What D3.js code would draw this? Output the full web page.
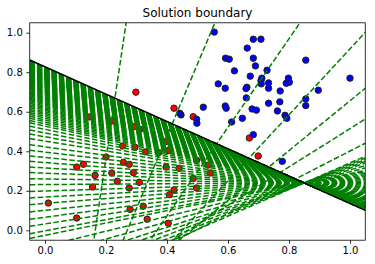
<!DOCTYPE html>
<html>
<head>
<meta charset="utf-8">
<script src="https://cdn.jsdelivr.net/npm/d3@7"></script>
<style>
  body { margin: 0; background: white; }
  text { font-family: "DejaVu Sans", sans-serif; }
</style>
</head>
<body>
<svg id="chart" width="375" height="264"></svg>
<script>
// class 0 points (red)
const redX = [0.011, 0.104, 0.104, 0.126, 0.200, 0.164, 0.156, 0.219, 0.237, 0.257, 0.276, 0.290, 0.276, 0.309,
    0.279, 0.322, 0.335, 0.404, 0.408, 0.423, 0.397, 0.440, 0.330, 0.255, 0.295, 0.372, 0.396, 0.404, 0.147,
    0.216, 0.293, 0.311, 0.298, 0.423, 0.486, 0.670, 0.699, 0.497, 0.535, 0.542, 0.486, 0.497];
const redY = [0.138, 0.062, 0.320, 0.334, 0.371, 0.278, 0.219, 0.290, 0.248, 0.344, 0.334, 0.292, 0.214, 0.243,
    0.106, 0.122, 0.056, 0.036, 0.180, 0.204, 0.320, 0.314, 0.397, 0.427, 0.420, 0.393, 0.449, 0.403, 0.574,
    0.552, 0.525, 0.511, 0.699, 0.618, 0.575, 0.467, 0.376, 0.354, 0.330, 0.290, 0.262, 0.214];

// class 1 points (blue)
const blueX = [0.555, 0.683, 0.708, 0.663, 0.592, 0.604, 0.683, 0.855, 0.690, 0.621, 0.728, 0.673, 0.711, 0.708,
    0.798, 0.801, 0.791, 1.000, 0.568, 0.733, 0.709, 0.662, 0.659, 0.591, 0.733, 0.771, 0.896, 0.660, 0.733,
    0.770, 0.855, 0.855, 0.519, 0.591, 0.594, 0.679, 0.693, 0.762, 0.787, 0.793, 0.647, 0.612, 0.497, 0.498,
    0.446, 0.442, 0.683, 0.778];
const blueY = [1.003, 0.967, 0.967, 0.922, 0.871, 0.866, 0.871, 0.861, 0.832, 0.807, 0.810, 0.780, 0.770, 0.757,
    0.770, 0.749, 0.744, 0.770, 0.741, 0.746, 0.741, 0.724, 0.717, 0.719, 0.719, 0.705, 0.709, 0.670, 0.643,
    0.650, 0.665, 0.631, 0.623, 0.629, 0.618, 0.614, 0.608, 0.604, 0.582, 0.567, 0.567, 0.548, 0.562, 0.542,
    0.584, 0.592, 0.484, 0.349];

// first iterations: x where each line crosses y = -0.05 and y = 1.05
const earlyLines = [[0.16, 0.266], [0.256, 0.557], [0.345, 0.836], [0.42, 1.079], [0.44, 1.313],
    [0.418, 1.552], [0.43, 1.82]];

// where the later lines all cross, near the end of the black line
const pivot = [0.85, 0.24];

// middle iterations: x where each line leaves the bottom edge (they run through the pivot)
const bottomCross = [0.419, 0.39, 0.356, 0.315, 0.269, 0.187, 0.079, -0.079];

// last iterations: y where each line leaves the left edge (they run through the pivot)
const leftCross = [-0.017, 0.02, 0.056, 0.093, 0.13, 0.164, 0.197, 0.231, 0.261, 0.292, 0.32, 0.349, 0.376,
    0.405, 0.433, 0.464, 0.487, 0.508, 0.527, 0.544, 0.556, 0.567, 0.577, 0.587, 0.596, 0.605, 0.613, 0.621,
    0.629, 0.636, 0.643, 0.650, 0.657, 0.663, 0.669, 0.675, 0.681, 0.687, 0.692, 0.697, 0.702, 0.707, 0.712,
    0.717, 0.721, 0.725, 0.729, 0.733, 0.737, 0.741, 0.745, 0.749, 0.752, 0.755, 0.758, 0.761, 0.764, 0.767,
    0.770, 0.773, 0.776, 0.779, 0.782, 0.785, 0.788, 0.790, 0.792, 0.794, 0.796, 0.798, 0.800, 0.802, 0.804,
    0.806, 0.808, 0.810, 0.812, 0.814, 0.816, 0.818, 0.820, 0.822, 0.824, 0.826, 0.828, 0.830, 0.832, 0.834,
    0.836, 0.838, 0.840, 0.842, 0.844, 0.846, 0.848, 0.850, 0.852, 0.854, 0.856, 0.858];

// final solution: y at x = -0.05 and at x = 1.05
const boundary = [0.862, 0.101];

const ticks = [0, 0.2, 0.4, 0.6, 0.8, 1.0];
const xDomain = [-0.05, 1.05],
    yDomain = [-0.05, 1.05];

const svg = d3.select('#chart'),
    margin = { top: 22.8, right: 9.75, bottom: 23.8, left: 29.75 },
    width = 375 - margin.left - margin.right,
    height = 264 - margin.top - margin.bottom;

const x = d3.scaleLinear().domain(xDomain).range([0, width]),
    y = d3.scaleLinear().domain(yDomain).range([height, 0]);

const g = svg.append('g')
    .attr('transform', 'translate(' + margin.left + ',' + margin.top + ')');

g.append('clipPath')
    .attr('id', 'plot-area')
    .append('rect')
    .attr('width', width)
    .attr('height', height);

// scatter sits below the lines, like matplotlib zorder
const pts = redX.map((v, i) => ({ x: v, y: redY[i], c: 'red' }))
    .concat(blueX.map((v, i) => ({ x: v, y: blueY[i], c: 'blue' })));

g.append('g')
    .attr('clip-path', 'url(#plot-area)')
    .selectAll('circle')
    .data(pts)
    .enter()
    .append('circle')
    .attr('cx', d => x(d.x))
    .attr('cy', d => y(d.y))
    .attr('r', 3.2)
    .attr('fill', d => d.c)
    .attr('stroke', '#222')
    .attr('stroke-width', 1);

// a line through two points, stretched from x = -0.05 to x = 1.05 so the dashes start at the left edge
function spanLine(p, q) {
    const m = (q[1] - p[1]) / (q[0] - p[0]),
        at = xv => [xv, p[1] + m * (xv - p[0])];
    return [at(xDomain[0]), at(xDomain[1])];
}

const lineGen = d3.line().x(d => x(d[0])).y(d => y(d[1]));

const segs = earlyLines.map(d => spanLine([d[0], yDomain[0]], [d[1], yDomain[1]]))
    .concat(bottomCross.map(v => spanLine([v, yDomain[0]], pivot)))
    .concat(leftCross.map(v => spanLine([xDomain[0], v], pivot)));

const lines = g.append('g').attr('clip-path', 'url(#plot-area)');

lines.selectAll('path.iter')
    .data(segs)
    .enter()
    .append('path')
    .classed('iter', true)
    .attr('d', lineGen)
    .attr('fill', 'none')
    .attr('stroke', '#008000')
    .attr('stroke-width', 1.5)
    .attr('stroke-dasharray', '5.55,2.4');

lines.append('path')
    .attr('d', lineGen([[xDomain[0], boundary[0]], [xDomain[1], boundary[1]]]))
    .attr('fill', 'none')
    .attr('stroke', 'black')
    .attr('stroke-width', 1.5);

const fmt = d3.format('.1f');

const xAxis = g.append('g')
    .attr('transform', 'translate(0,' + height + ')')
    .call(d3.axisBottom(x).tickValues(ticks).tickFormat(fmt).tickSize(3.5).tickPadding(3.5));

const yAxis = g.append('g')
    .call(d3.axisLeft(y).tickValues(ticks).tickFormat(fmt).tickSize(3.5).tickPadding(3.5));

[xAxis, yAxis].forEach(a => {
    a.select('.domain').remove();
    a.selectAll('line').attr('stroke', 'black').attr('stroke-width', 0.8);
    a.selectAll('text')
        .attr('fill', 'black')
        .attr('font-size', 10)
        .style('font-family', '"DejaVu Sans", sans-serif');
});

g.append('rect')
    .attr('width', width)
    .attr('height', height)
    .attr('fill', 'none')
    .attr('stroke', 'black')
    .attr('stroke-width', 0.8);

g.append('text')
    .text('Solution boundary')
    .attr('x', width / 2)
    .attr('y', -6)
    .attr('text-anchor', 'middle')
    .attr('font-size', 12)
    .attr('fill', 'black');
</script>
</body>
</html>
